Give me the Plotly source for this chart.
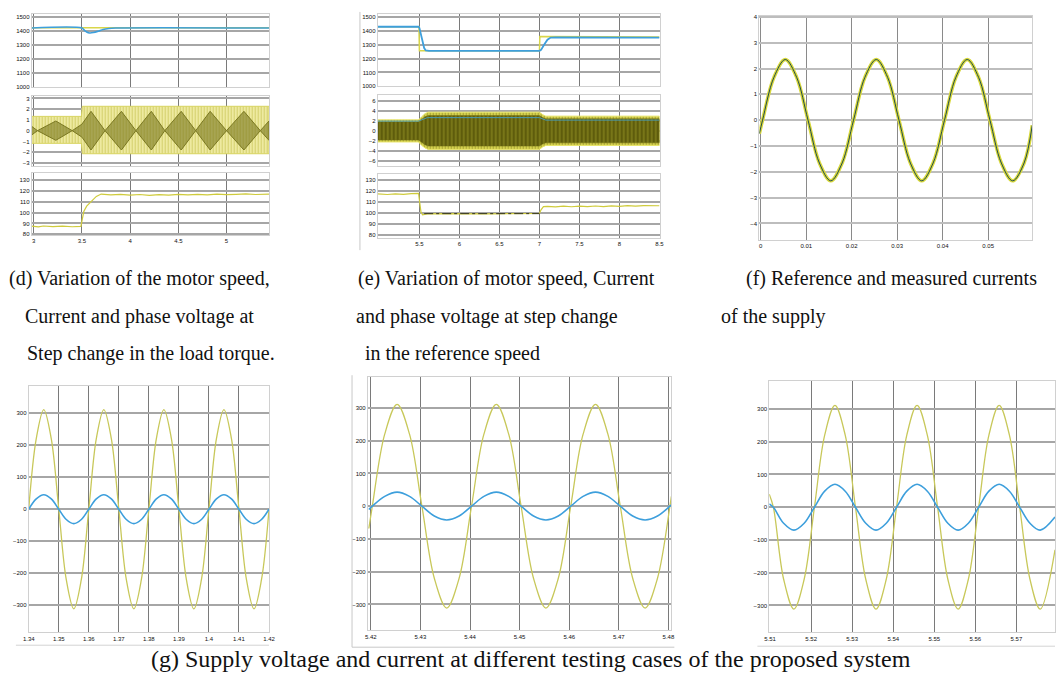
import plotly.graph_objects as go

W, H = 1061, 676

# ---------------- data ----------------
# (d) step change in load torque
d_xticks = [3, 3.5, 4, 4.5, 5]
d_speed_t = [2.98, 3.50, 3.52, 3.55, 3.58, 3.62, 3.67, 3.72, 3.78, 3.85, 5.44]
d_speed = [1420, 1420, 1408, 1392, 1385, 1388, 1398, 1410, 1417, 1420, 1420]
d_ref_t = [2.98, 5.44]
d_ref = [1422, 1422]
d_env_t = [2.98, 3.495, 3.505, 5.44]
d_env_top = [1.33, 1.33, 2.27, 2.27]
d_env_bot = [-1.18, -1.18, -2.15, -2.15]
d_beat_t = [2.98, 3.04, 3.23, 3.40, 3.50, 3.595, 3.74, 3.91, 4.06, 4.22, 4.36, 4.53, 4.68, 4.83, 5.0, 5.18, 5.35, 5.44]
d_beat = [0.4, 0.0, 0.9, 0.0, 0.6, 1.8, 0.0, 1.8, 0.0, 1.8, 0.0, 1.8, 0.0, 1.8, 0.0, 1.8, 0.0, 0.9]
d_volt_t = [2.98, 3.05, 3.1, 3.2, 3.3, 3.4, 3.49, 3.5, 3.52, 3.55, 3.6, 3.65, 3.7, 3.8, 3.9, 4.0, 4.1,
            4.2, 4.3, 4.4, 4.5, 4.6, 4.7, 4.8, 4.9, 5.0, 5.1, 5.2, 5.3, 5.44]
d_volt = [87.5, 86.8, 87.6, 87.0, 87.4, 86.9, 87.3, 92, 101, 106, 111, 115, 117.2, 116.5, 117.0, 116.2, 116.8,
          116.0, 116.6, 116.3, 117.0, 116.4, 116.9, 116.5, 117.1, 116.6, 116.9, 117.3, 116.8, 117.2]

# (e) step change in reference speed
e_xticks = [5.5, 6, 6.5, 7, 7.5, 8, 8.5]
e_speed_t = [4.98, 5.49, 5.50, 5.53, 5.56, 5.58, 5.62, 7.0, 7.02, 7.06, 7.1, 7.14, 7.2, 8.5]
e_speed = [1428, 1428, 1420, 1340, 1275, 1258, 1255, 1255, 1262, 1300, 1335, 1350, 1352, 1350]
e_ref_t = [4.98, 5.495, 5.50, 7.0, 7.005, 8.5]
e_ref = [1428, 1428, 1255, 1255, 1357, 1355]
e_env_t = [4.98, 5.49, 5.53, 5.57, 5.61, 7.0, 7.04, 7.08, 8.5]
e_env_top = [2.25, 2.25, 2.9, 3.5, 3.8, 3.8, 3.3, 3.0, 3.0]
e_env_bot = [-2.2, -2.2, -2.9, -3.4, -3.7, -3.7, -3.2, -2.9, -2.9]
e_line_t = [4.98, 5.49, 5.6, 7.0, 7.08, 8.5]
e_line = [2.0, 2.0, 2.7, 2.7, 2.2, 2.2]
e_volt_t = [4.98, 5.1, 5.2, 5.3, 5.4, 5.49, 5.5, 5.52, 5.54, 5.6, 5.8, 6.0, 6.2, 6.4, 6.6, 6.8, 7.0, 7.02,
            7.05, 7.1, 7.2, 7.3, 7.4, 7.5, 7.6, 7.7, 7.8, 7.9, 8.0, 8.1, 8.2, 8.3, 8.4, 8.5]
e_volt = [117.5, 117.0, 117.6, 117.1, 117.8, 118, 112, 101, 98.5, 99.2, 99.6, 99.4, 99.7, 99.3, 99.6, 99.4, 99.8, 103,
          106, 106.2, 105.6, 106.4, 105.8, 106.3, 105.9, 106.5, 106.0, 106.6, 106.2, 106.8, 106.3, 106.9, 106.5, 106.7]

# (f) reference and measured supply currents (points every 1/8 period)
f_xticks = [0, 0.01, 0.02, 0.03, 0.04, 0.05]
f_yticks = [4, 3, 2, 1, 0, -1, -2, -3, -4]
f_t = [-0.0003, 0.0004, 0.0029, 0.0054, 0.0079, 0.0104, 0.0129, 0.0154, 0.0179,
       0.0204, 0.0229, 0.0254, 0.0279, 0.0304, 0.0329, 0.0354, 0.0379,
       0.0404, 0.0429, 0.0454, 0.0479, 0.0504, 0.0529, 0.0554, 0.0579, 0.0597]
f_i = [-0.52, 0.0, 1.66, 2.35, 1.66, 0.0, -1.66, -2.35, -1.66,
       0.0, 1.66, 2.35, 1.66, 0.0, -1.66, -2.35, -1.66,
       0.0, 1.66, 2.35, 1.66, 0.0, -1.66, -2.35, -1.66, -0.2]

# (g) supply voltage and current, three cases (points every 1/8 period)
g1_xticks = [1.34, 1.35, 1.36, 1.37, 1.38, 1.39, 1.4, 1.41, 1.42]
g1_t = [1.34, 1.3425, 1.345, 1.3475, 1.35, 1.3525, 1.355, 1.3575,
        1.36, 1.3625, 1.365, 1.3675, 1.37, 1.3725, 1.375, 1.3775,
        1.38, 1.3825, 1.385, 1.3875, 1.39, 1.3925, 1.395, 1.3975,
        1.40, 1.4025, 1.405, 1.4075, 1.41, 1.4125, 1.415, 1.4175, 1.42]
g1_v = [0, 220, 311, 220, 0, -220, -311, -220,
        0, 220, 311, 220, 0, -220, -311, -220,
        0, 220, 311, 220, 0, -220, -311, -220,
        0, 220, 311, 220, 0, -220, -311, -220, 0]
g1_i = [0, 32, 45, 32, 0, -32, -45, -32,
        0, 32, 45, 32, 0, -32, -45, -32,
        0, 32, 45, 32, 0, -32, -45, -32,
        0, 32, 45, 32, 0, -32, -45, -32, 0]

g2_xticks = [5.42, 5.43, 5.44, 5.45, 5.46, 5.47, 5.48]
g2_t = [5.4196, 5.4203, 5.4228, 5.4253, 5.4278, 5.4303, 5.4328, 5.4353, 5.4378,
        5.4403, 5.4428, 5.4453, 5.4478, 5.4503, 5.4528, 5.4553, 5.4578,
        5.4603, 5.4628, 5.4653, 5.4678, 5.4703, 5.4728, 5.4753, 5.4778, 5.4803, 5.4806]
g2_v = [-68, 0, 220, 311, 220, 0, -220, -311, -220,
        0, 220, 311, 220, 0, -220, -311, -220,
        0, 220, 311, 220, 0, -220, -311, -220, 0, 30]
g2_i = [-10, 0, 30, 43, 30, 0, -30, -42, -30,
        0, 30, 43, 30, 0, -30, -42, -30,
        0, 30, 43, 30, 0, -30, -42, -30, 0, 4]

g3_xticks = [5.51, 5.52, 5.53, 5.54, 5.55, 5.56, 5.57, 5.58]
g3_t = [5.5098, 5.5108, 5.5133, 5.5158, 5.5183, 5.5208, 5.5233, 5.5258, 5.5283,
        5.5308, 5.5333, 5.5358, 5.5383, 5.5408, 5.5433, 5.5458, 5.5483,
        5.5508, 5.5533, 5.5558, 5.5583, 5.5608, 5.5633, 5.5658, 5.5683,
        5.5708, 5.5733, 5.5758, 5.5794]
g3_v = [40, 0, -220, -311, -220, 0, 220, 311, 220,
        0, -220, -311, -220, 0, 220, 311, 220,
        0, -220, -311, -220, 0, 220, 311, 220,
        0, -220, -311, -130]
g3_i = [10, 0, -49, -70, -49, 0, 49, 70, 49,
        0, -49, -70, -49, 0, 49, 70, 49,
        0, -49, -70, -49, 0, 49, 70, 49,
        0, -49, -70, -30]

g_yticks = [300, 200, 100, 0, -100, -200, -300]
speed_yticks = [1500, 1400, 1300, 1200, 1100, 1000]
volt_yticks = [130, 120, 110, 100, 90, 80]

# ---------------- styling ----------------
YEL = "#d9d64a"
BLUE = "#3d9fdc"
TICKFONT = dict(family="Arial", size=6, color="#111111")

fig = go.Figure()
layout = {}


def add_panel(i, px0, px1, py0, py1, xr, yr, xt, yt, showx, xgrid="#7a7a7a", ygrid="#a6a6a6", ygw=1.6):
    layout[f"xaxis{i}"] = dict(domain=[px0 / W, min(px1 / W, 1)], range=xr, anchor=f"y{i}",
                               tickvals=xt, showticklabels=showx, tickfont=TICKFONT,
                               showgrid=True, gridcolor=xgrid, gridwidth=1, zeroline=False,
                               showline=True, linecolor="#d0d0d0", mirror=True, ticks="",
                               ticklen=0, fixedrange=True)
    layout[f"yaxis{i}"] = dict(domain=[1 - py1 / H, 1 - py0 / H], range=yr, anchor=f"x{i}",
                               tickvals=yt, tickfont=TICKFONT, showgrid=True, gridcolor=ygrid,
                               gridwidth=ygw, zeroline=False, showline=True, linecolor="#d0d0d0",
                               mirror=True, ticks="", fixedrange=True)


def ax(i):
    return dict(xaxis=f"x{i}", yaxis=f"y{i}")


# (d)
add_panel(1, 26, 266, 12, 86, [2.98, 5.44], [1000, 1520], d_xticks, speed_yticks, False)
add_panel(2, 26, 266, 95, 165, [2.98, 5.44], [-3.27, 3.2], d_xticks, [3, 2, 1, 0, -1, -2, -3], False)
add_panel(3, 26, 266, 172, 235, [2.98, 5.44], [79, 137], d_xticks, volt_yticks, True)
# (e)
add_panel(4, 376, 661, 12, 85, [4.98, 8.5], [1000, 1520], e_xticks, speed_yticks, False)
add_panel(5, 376, 661, 94, 165, [4.98, 8.5], [-7.0, 7.2], e_xticks, [6, 4, 2, 0, -2, -4, -6], False)
add_panel(6, 376, 661, 173, 238, [4.98, 8.5], [77, 136], e_xticks, volt_yticks, True)
# (f)
add_panel(7, 762, 1038, 14, 240, [-0.0003, 0.0597], [-4.65, 4.04], f_xticks, f_yticks, True,
          xgrid="#8a8a8a", ygrid="#bdbdbd", ygw=2)
# (g)
add_panel(8, 23, 266, 387, 635, [1.34, 1.42], [-384, 384], g1_xticks, g_yticks, True)
add_panel(9, 366, 673, 378, 633, [5.4194, 5.4806], [-379, 394], g2_xticks, g_yticks, True)
add_panel(10, 772, 1061, 382, 635, [5.5098, 5.5794], [-382, 385], g3_xticks, g_yticks, True)

# (d) traces
fig.add_trace(go.Scatter(x=d_ref_t, y=d_ref, mode="lines", line=dict(color=YEL, width=1.5), **ax(1)))
fig.add_trace(go.Scatter(x=d_speed_t, y=d_speed, mode="lines", line=dict(color=BLUE, width=1.6, shape="spline"), **ax(1)))
fig.add_trace(go.Scatter(x=d_env_t + d_env_t[::-1], y=d_env_top + d_env_bot[::-1], mode="lines",
                         fill="toself", fillcolor="#ebe78e",
                         fillpattern=dict(shape="|", fgcolor="#b8b438", bgcolor="#eeeaa0", size=3, solidity=0.35),
                         line=dict(color="#d8d460", width=1), **ax(2)))
fig.add_trace(go.Scatter(x=d_beat_t + d_beat_t[::-1], y=d_beat + [-v for v in d_beat[::-1]], mode="lines",
                         fill="toself", fillcolor="rgba(120,118,30,0.6)", line=dict(color="#7a7822", width=1), **ax(2)))
fig.add_trace(go.Scatter(x=d_volt_t, y=d_volt, mode="lines", line=dict(color="#cfcb3c", width=1.2), **ax(3)))

# (e) traces
fig.add_trace(go.Scatter(x=e_ref_t, y=e_ref, mode="lines", line=dict(color=YEL, width=1.5), **ax(4)))
fig.add_trace(go.Scatter(x=e_speed_t, y=e_speed, mode="lines", line=dict(color=BLUE, width=1.8), **ax(4)))
fig.add_trace(go.Scatter(x=e_env_t + e_env_t[::-1], y=e_env_top + e_env_bot[::-1], mode="lines",
                         fill="toself", fillcolor="#dcd84c",
                         fillpattern=dict(shape="|", fgcolor="#6a6810", bgcolor="#e4e058", size=3, solidity=0.5),
                         line=dict(color="#e8e468", width=1), **ax(5)))
fig.add_trace(go.Scatter(x=e_env_t + e_env_t[::-1], y=[v * 0.82 for v in e_env_top] + [v * 0.82 for v in e_env_bot[::-1]],
                         mode="lines", fill="toself", fillcolor="#64620e",
                         fillpattern=dict(shape="|", fgcolor="#c8c43a", bgcolor="#5e5c0c", size=4, solidity=0.25),
                         line=dict(color="#6e6c14", width=0.5), **ax(5)))
fig.add_trace(go.Scatter(x=e_line_t, y=e_line, mode="lines", line=dict(color="#4a9ab0", width=1), **ax(5)))
fig.add_trace(go.Scatter(x=e_volt_t, y=e_volt, mode="lines", line=dict(color="#cfcb3c", width=1.2), **ax(6)))
fig.add_trace(go.Scatter(x=[5.56, 7.0], y=[99.5, 99.5], mode="lines", line=dict(color="#333322", width=1, dash="dashdot"), **ax(6)))

# (f) traces
fig.add_trace(go.Scatter(x=f_t, y=f_i, mode="lines", line=dict(color="#d8d83a", width=3.5, shape="spline", smoothing=1.0), **ax(7)))
fig.add_trace(go.Scatter(x=f_t, y=f_i, mode="lines", line=dict(color="#1f4a50", width=1, shape="spline", smoothing=1.0), **ax(7)))

# (g) traces
for i, t, v, c in [(8, g1_t, g1_v, g1_i), (9, g2_t, g2_v, g2_i), (10, g3_t, g3_v, g3_i)]:
    fig.add_trace(go.Scatter(x=t, y=v, mode="lines", line=dict(color="#c8c85a", width=1.3, shape="spline", smoothing=1.0), **ax(i)))
    fig.add_trace(go.Scatter(x=t, y=c, mode="lines", line=dict(color=BLUE, width=1.6, shape="spline", smoothing=1.0), **ax(i)))

# sub-figure border lines
shapes = [
    dict(type="line", xref="paper", yref="paper", x0=358 / W, x1=358 / W, y0=1 - 250 / H, y1=1 - 10 / H, line=dict(color="#c8c8c8", width=1)),
    dict(type="line", xref="paper", yref="paper", x0=350 / W, x1=350 / W, y0=1 - 650 / H, y1=1 - 376 / H, line=dict(color="#c8c8c8", width=1)),
    dict(type="line", xref="paper", yref="paper", x0=350 / W, x1=676 / W, y0=1 - 650 / H, y1=1 - 650 / H, line=dict(color="#c8c8c8", width=1)),
    dict(type="line", xref="paper", yref="paper", x0=10 / W, x1=266 / W, y0=1 - 648 / H, y1=1 - 648 / H, line=dict(color="#d4d4d4", width=1)),
    dict(type="line", xref="paper", yref="paper", x0=760 / W, x1=1061 / W, y0=1 - 649 / H, y1=1 - 649 / H, line=dict(color="#d4d4d4", width=1)),
]

# captions
CAP = dict(family="Liberation Serif, Times New Roman, serif", size=20, color="#111111")
captions = [
    (1, 279, "(d) Variation of the motor speed,"),
    (17, 317, "Current and phase voltage at"),
    (19, 354, "Step change in the load torque."),
    (354, 279, "(e) Variation of motor speed, Current"),
    (352, 317, "and phase voltage at step change"),
    (361, 354, "in the reference speed"),
    (746, 279, "(f) Reference and measured currents"),
    (721, 317, "of the supply"),
]
annotations = [dict(x=x / W, y=1 - y / H, xref="paper", yref="paper", text=t, showarrow=False,
                    xanchor="left", yanchor="middle", font=CAP) for x, y, t in captions]
annotations.append(dict(x=531 / W, y=1 - 662 / H, xref="paper", yref="paper",
                        text="(g) Supply voltage and current at different testing cases of the proposed system",
                        showarrow=False, xanchor="center", yanchor="middle",
                        font=dict(family="Liberation Serif, Times New Roman, serif", size=24, color="#111111")))

fig.update_layout(width=W, height=H, margin=dict(l=0, r=0, t=0, b=0), paper_bgcolor="white",
                  plot_bgcolor="white", showlegend=False, shapes=shapes, annotations=annotations, **layout)

fig.write_html("out.html", config={"displayModeBar": False},
               post_script="document.body.style.margin='0';document.body.style.overflow='hidden';")
